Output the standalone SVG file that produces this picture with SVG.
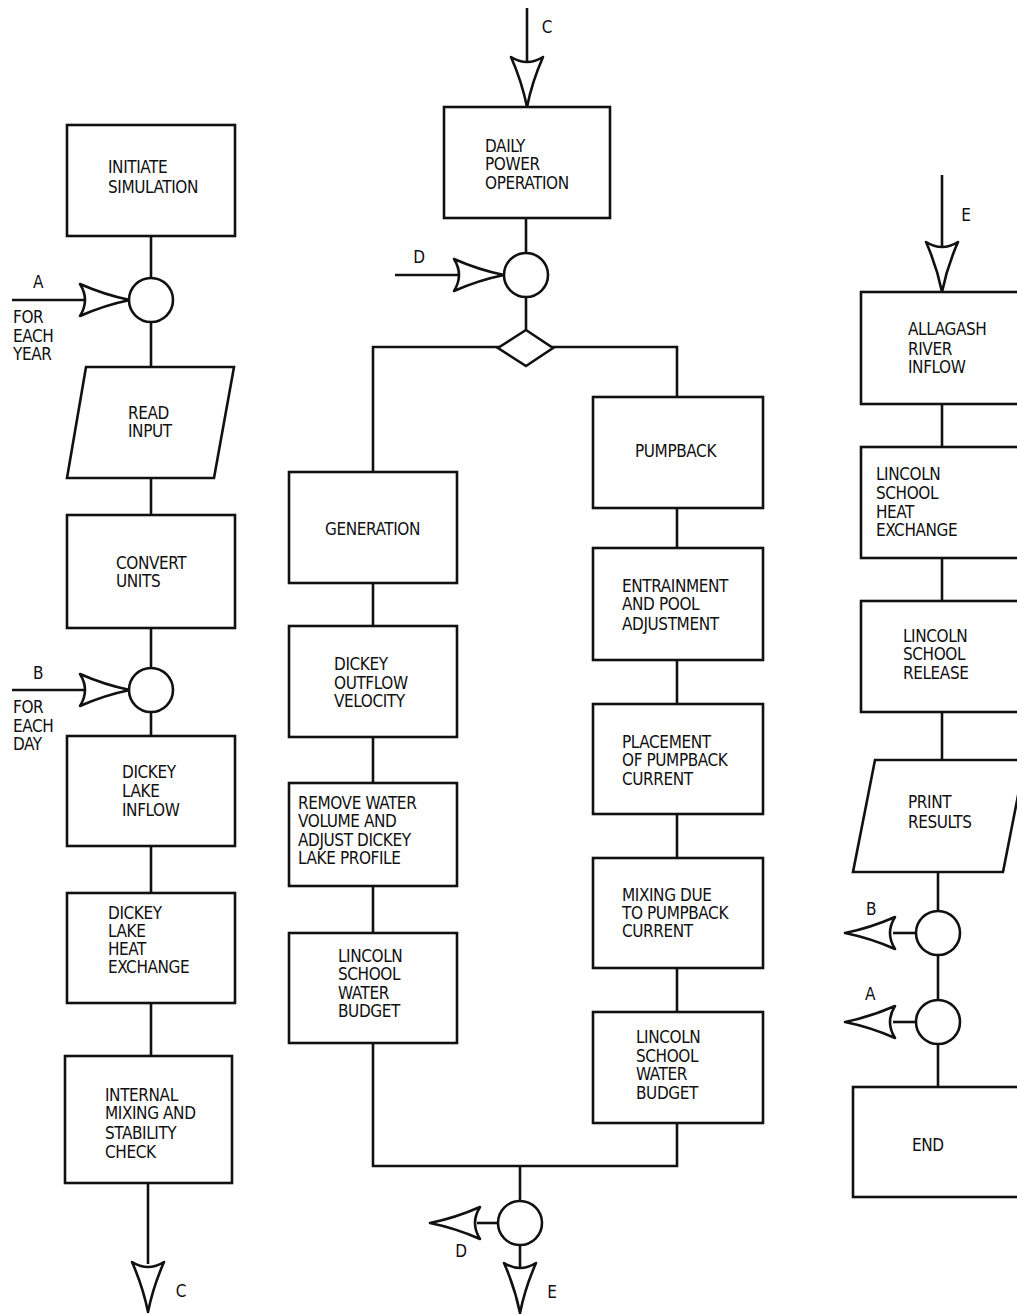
<svg xmlns="http://www.w3.org/2000/svg" xmlns:xlink="http://www.w3.org/1999/xlink" width="1017" height="1314" viewBox="0 0 1017 1314">
<style>
  .bx{fill:#fff;stroke:#111;stroke-width:2.6;stroke-linejoin:miter}
  .ln{fill:none;stroke:#111;stroke-width:2.6}
  .ci{fill:#fff;stroke:#111;stroke-width:2.6}
  .ah{fill:#fff;stroke:#111;stroke-width:2.6;stroke-linejoin:round}
  text{font-family:"Liberation Sans Narrow","DejaVu Sans Condensed","Liberation Sans",sans-serif;font-stretch:condensed;font-size:17px;letter-spacing:-0.4px;fill:#111}
  .lb{text-anchor:middle}
</style>
<defs>
  <path id="ah" d="M0,0 Q-25,-5 -50,-16 Q-40,0 -50,16 Q-25,5 0,0 Z"/>
</defs>
<rect width="1017" height="1314" fill="#fff"/>

<g id="connectors">
  <!-- left column -->
  <line class="ln" x1="151" y1="236" x2="151" y2="278"/>
  <line class="ln" x1="12" y1="300" x2="84" y2="300"/>
  <line class="ln" x1="151" y1="322" x2="151" y2="367"/>
  <line class="ln" x1="151" y1="478" x2="151" y2="515"/>
  <line class="ln" x1="151" y1="628" x2="151" y2="668"/>
  <line class="ln" x1="12" y1="690" x2="84" y2="690"/>
  <line class="ln" x1="151" y1="712" x2="151" y2="736"/>
  <line class="ln" x1="151" y1="846" x2="151" y2="893"/>
  <line class="ln" x1="151" y1="1003" x2="151" y2="1056"/>
  <line class="ln" x1="148" y1="1183" x2="148" y2="1264"/>
  <!-- middle column -->
  <line class="ln" x1="527" y1="8" x2="527" y2="61"/>
  <line class="ln" x1="526" y1="218" x2="526" y2="253"/>
  <line class="ln" x1="395" y1="275" x2="458" y2="275"/>
  <line class="ln" x1="526" y1="297" x2="526" y2="330"/>
  <polyline class="ln" points="373,472 373,347 677,347 677,397"/>
  <line class="ln" x1="373" y1="583" x2="373" y2="626"/>
  <line class="ln" x1="373" y1="737" x2="373" y2="783"/>
  <line class="ln" x1="373" y1="886" x2="373" y2="933"/>
  <line class="ln" x1="677" y1="508" x2="677" y2="548"/>
  <line class="ln" x1="677" y1="660" x2="677" y2="704"/>
  <line class="ln" x1="677" y1="814" x2="677" y2="858"/>
  <line class="ln" x1="677" y1="968" x2="677" y2="1012"/>
  <polyline class="ln" points="373,1043 373,1166 677,1166 677,1123"/>
  <line class="ln" x1="520" y1="1166" x2="520" y2="1201"/>
  <line class="ln" x1="477" y1="1223" x2="498" y2="1223"/>
  <line class="ln" x1="520" y1="1245" x2="520" y2="1267"/>
  <!-- right column -->
  <line class="ln" x1="942" y1="175" x2="942" y2="246"/>
  <line class="ln" x1="942" y1="404" x2="942" y2="447"/>
  <line class="ln" x1="942" y1="558" x2="942" y2="601"/>
  <line class="ln" x1="942" y1="712" x2="942" y2="760"/>
  <line class="ln" x1="938" y1="872" x2="938" y2="911"/>
  <line class="ln" x1="893" y1="933" x2="916" y2="933"/>
  <line class="ln" x1="938" y1="955" x2="938" y2="1000"/>
  <line class="ln" x1="893" y1="1022" x2="916" y2="1022"/>
  <line class="ln" x1="938" y1="1044" x2="938" y2="1087"/>

  <!-- arrowheads -->
  <use xlink:href="#ah" class="ah" transform="translate(130,300)"/>
  <use xlink:href="#ah" class="ah" transform="translate(130,690)"/>
  <use xlink:href="#ah" class="ah" transform="translate(148,1312) rotate(90)"/>
  <use xlink:href="#ah" class="ah" transform="translate(527,107) rotate(90)"/>
  <use xlink:href="#ah" class="ah" transform="translate(504,275)"/>
  <use xlink:href="#ah" class="ah" transform="translate(430,1223) rotate(180)"/>
  <use xlink:href="#ah" class="ah" transform="translate(520,1313) rotate(90)"/>
  <use xlink:href="#ah" class="ah" transform="translate(942,292) rotate(90)"/>
  <use xlink:href="#ah" class="ah" transform="translate(845,933) rotate(180)"/>
  <use xlink:href="#ah" class="ah" transform="translate(845,1022) rotate(180)"/>

  <!-- connector labels -->
  <text class="lb" x="38" y="288">A</text>
  <text x="13" y="323">FOR</text>
  <text x="13" y="342">EACH</text>
  <text x="13" y="360">YEAR</text>
  <text class="lb" x="38" y="679">B</text>
  <text x="13" y="713">FOR</text>
  <text x="13" y="732">EACH</text>
  <text x="13" y="750">DAY</text>
  <text class="lb" x="181" y="1297">C</text>
  <text class="lb" x="547" y="33">C</text>
  <text class="lb" x="419" y="263">D</text>
  <text class="lb" x="461" y="1257">D</text>
  <text class="lb" x="552" y="1298">E</text>
  <text class="lb" x="966" y="221">E</text>
  <text class="lb" x="871" y="915">B</text>
  <text class="lb" x="870" y="1000">A</text>
</g>

<!-- left column nodes -->
<g id="n-initiate">
  <rect class="bx" x="67" y="125" width="168" height="111"/>
  <text x="108" y="173">INITIATE</text>
  <text x="108" y="193">SIMULATION</text>
</g>
<g id="c-a1"><circle class="ci" cx="151" cy="300" r="22"/></g>
<g id="n-read">
  <polygon class="bx" points="86,367 234,367 214,478 67,478"/>
  <text x="128" y="419">READ</text>
  <text x="128" y="437">INPUT</text>
</g>
<g id="n-convert">
  <rect class="bx" x="67" y="515" width="168" height="113"/>
  <text x="116" y="569">CONVERT</text>
  <text x="116" y="587">UNITS</text>
</g>
<g id="c-b1"><circle class="ci" cx="151" cy="690" r="22"/></g>
<g id="n-dlinflow">
  <rect class="bx" x="67" y="736" width="168" height="110"/>
  <text x="122" y="778">DICKEY</text>
  <text x="122" y="797">LAKE</text>
  <text x="122" y="816">INFLOW</text>
</g>
<g id="n-dlheat">
  <rect class="bx" x="67" y="893" width="168" height="110"/>
  <text x="108" y="919">DICKEY</text>
  <text x="108" y="937">LAKE</text>
  <text x="108" y="955">HEAT</text>
  <text x="108" y="973">EXCHANGE</text>
</g>
<g id="n-mixing">
  <rect class="bx" x="65" y="1056" width="167" height="127"/>
  <text x="105" y="1101">INTERNAL</text>
  <text x="105" y="1119">MIXING AND</text>
  <text x="105" y="1139">STABILITY</text>
  <text x="105" y="1158">CHECK</text>
</g>

<!-- middle column nodes -->
<g id="n-daily">
  <rect class="bx" x="444" y="107" width="166" height="111"/>
  <text x="485" y="152">DAILY</text>
  <text x="485" y="170">POWER</text>
  <text x="485" y="189">OPERATION</text>
</g>
<g id="c-d1"><circle class="ci" cx="526" cy="275" r="22"/></g>
<g id="n-decision"><polygon class="bx" points="526,330 553,348 526,366 498,348"/></g>
<g id="n-generation">
  <rect class="bx" x="289" y="472" width="168" height="111"/>
  <text x="325" y="535">GENERATION</text>
</g>
<g id="n-outflow">
  <rect class="bx" x="289" y="626" width="168" height="111"/>
  <text x="334" y="670">DICKEY</text>
  <text x="334" y="689">OUTFLOW</text>
  <text x="334" y="707">VELOCITY</text>
</g>
<g id="n-remove">
  <rect class="bx" x="289" y="783" width="168" height="103"/>
  <text x="298" y="809">REMOVE WATER</text>
  <text x="298" y="827">VOLUME AND</text>
  <text x="298" y="846">ADJUST DICKEY</text>
  <text x="298" y="864">LAKE PROFILE</text>
</g>
<g id="n-lsbudget1">
  <rect class="bx" x="289" y="933" width="168" height="110"/>
  <text x="338" y="962">LINCOLN</text>
  <text x="338" y="980">SCHOOL</text>
  <text x="338" y="999">WATER</text>
  <text x="338" y="1017">BUDGET</text>
</g>
<g id="n-pumpback">
  <rect class="bx" x="593" y="397" width="170" height="111"/>
  <text x="635" y="457">PUMPBACK</text>
</g>
<g id="n-entrain">
  <rect class="bx" x="593" y="548" width="170" height="112"/>
  <text x="622" y="592">ENTRAINMENT</text>
  <text x="622" y="610">AND POOL</text>
  <text x="622" y="630">ADJUSTMENT</text>
</g>
<g id="n-placement">
  <rect class="bx" x="593" y="704" width="170" height="110"/>
  <text x="622" y="748">PLACEMENT</text>
  <text x="622" y="766">OF PUMPBACK</text>
  <text x="622" y="785">CURRENT</text>
</g>
<g id="n-mixdue">
  <rect class="bx" x="593" y="858" width="170" height="110"/>
  <text x="622" y="901">MIXING DUE</text>
  <text x="622" y="919">TO PUMPBACK</text>
  <text x="622" y="937">CURRENT</text>
</g>
<g id="n-lsbudget2">
  <rect class="bx" x="593" y="1012" width="170" height="111"/>
  <text x="636" y="1043">LINCOLN</text>
  <text x="636" y="1062">SCHOOL</text>
  <text x="636" y="1080">WATER</text>
  <text x="636" y="1099">BUDGET</text>
</g>
<g id="c-out"><circle class="ci" cx="520" cy="1223" r="22"/></g>

<!-- right column nodes -->
<g id="n-allagash">
  <rect class="bx" x="861" y="292" width="166" height="112"/>
  <text x="908" y="335">ALLAGASH</text>
  <text x="908" y="355">RIVER</text>
  <text x="908" y="373">INFLOW</text>
</g>
<g id="n-lsheat">
  <rect class="bx" x="861" y="447" width="166" height="111"/>
  <text x="876" y="480">LINCOLN</text>
  <text x="876" y="499">SCHOOL</text>
  <text x="876" y="518">HEAT</text>
  <text x="876" y="536">EXCHANGE</text>
</g>
<g id="n-lsrelease">
  <rect class="bx" x="861" y="601" width="166" height="111"/>
  <text x="903" y="642">LINCOLN</text>
  <text x="903" y="660">SCHOOL</text>
  <text x="903" y="679">RELEASE</text>
</g>
<g id="n-print">
  <polygon class="bx" points="875,760 1025,760 1003,872 853,872"/>
  <text x="908" y="808">PRINT</text>
  <text x="908" y="828">RESULTS</text>
</g>
<g id="c-b2"><circle class="ci" cx="938" cy="933" r="22"/></g>
<g id="c-a2"><circle class="ci" cx="938" cy="1022" r="22"/></g>
<g id="n-end">
  <rect class="bx" x="853" y="1087" width="172" height="110"/>
  <text x="912" y="1151">END</text>
</g>
</svg>
